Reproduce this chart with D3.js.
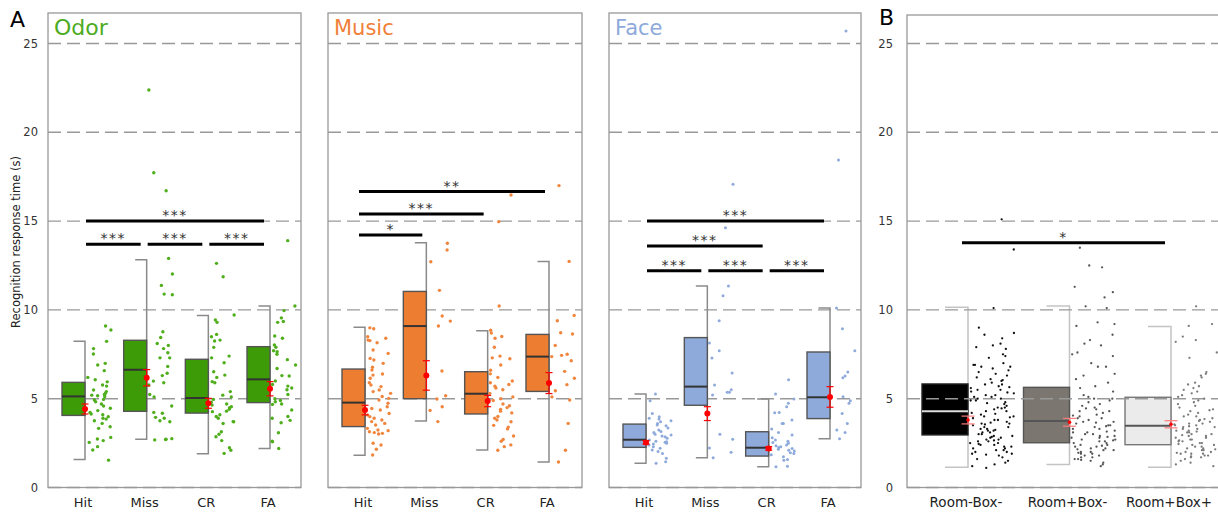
<!DOCTYPE html>
<html>
<head>
<meta charset="utf-8">
<style>
  body { margin: 0; background: #fff; }
  svg { display: block; font-family: 'DejaVu Sans', Verdana, sans-serif; }
</style>
</head>
<body>
<svg id="chart" width="1218" height="512"></svg>
<script src="https://cdn.jsdelivr.net/npm/d3@7"></script>
<script>
const yTicks = [0, 5, 10, 15, 20, 25]
const conditions = ['Hit', 'Miss', 'CR', 'FA']
const rooms = ['Room-Box-', 'Room+Box-', 'Room+Box+']

// box stats: [low whisker, q1, median, q3, high whisker]
const odorBoxes = [[1.57, 4.06, 5.13, 5.92, 8.23], [2.71, 4.29, 6.63, 8.29, 12.83], [1.9, 4.19, 5.04, 7.22, 9.69], [2.2, 4.78, 6.09, 7.93, 10.22]]
const odorMeans = [4.42, 6.18, 4.74, 5.56]
const odorErrors = [0.28, 0.46, 0.28, 0.4]
const odorHit = [9.09, 8.87, 8.23, 7.82, 7.52, 6.99, 6.9, 6.58, 6.2, 6.07, 5.95, 5.77, 5.71, 5.49, 5.4, 5.3, 5.24, 5.2, 5.17, 5.12, 4.96, 4.93, 4.83, 4.7, 4.59, 4.46, 4.33, 4.23, 4.14, 4.1, 3.99, 3.9, 3.85, 3.76, 3.61, 3.42, 3.33, 2.82, 2.73, 2.64, 2.54, 2.3, 2.11, 1.54]
const odorMiss = [22.38, 17.72, 16.71, 12.9, 12.02, 11.38, 10.89, 10.85, 8.77, 8.45, 8.11, 8.0, 7.82, 7.59, 7.3, 7.3, 6.82, 6.43, 6.3, 5.99, 5.9, 5.77, 5.24, 5.1, 4.59, 4.23, 4.18, 3.95, 3.9, 3.76, 3.7, 2.75, 2.72, 2.7, 2.68]
const odorCR = [12.62, 11.87, 9.71, 9.43, 9.3, 8.62, 8.49, 8.3, 8.25, 7.89, 7.4, 7.3, 7.02, 6.52, 6.33, 6.2, 5.96, 5.9, 5.4, 5.2, 5.1, 4.96, 4.8, 4.7, 4.64, 4.55, 4.5, 4.4, 4.3, 4.27, 4.1, 4.0, 3.9, 3.71, 3.7, 3.6, 3.14, 3.0, 2.86, 2.64, 2.24, 2.1, 1.92]
const odorFA = [13.9, 10.22, 9.96, 9.55, 9.35, 9.3, 8.53, 8.4, 8.02, 7.9, 7.7, 7.65, 7.5, 7.2, 6.9, 6.7, 6.3, 6.28, 6.0, 5.8, 5.71, 5.6, 5.5, 5.24, 5.0, 4.9, 4.83, 4.7, 4.68, 4.36, 4.0, 3.9, 3.78, 3.65, 3.08, 2.6, 2.58, 2.2]
const odorSig = [['Hit', 'FA', 15.0, '***'], ['Hit', 'Miss', 13.7, '***'], ['Miss', 'CR', 13.7, '***'], ['CR', 'FA', 13.7, '***']]

const musicBoxes = [[1.81, 3.43, 4.78, 6.67, 9.02], [3.74, 5.0, 9.09, 11.04, 13.78], [2.11, 4.14, 5.28, 6.52, 8.83], [1.44, 5.41, 7.37, 8.62, 12.73]]
const musicMeans = [4.36, 6.31, 4.87, 5.88]
const musicErrors = [0.27, 0.83, 0.32, 0.59]
const musicHit = [8.99, 8.94, 8.49, 8.4, 8.3, 8.27, 8.15, 7.74, 7.55, 7.27, 7.18, 6.99, 6.77, 6.62, 6.39, 6.33, 6.15, 5.9, 5.77, 5.68, 5.49, 5.4, 5.3, 5.12, 5.02, 4.93, 4.74, 4.55, 4.45, 4.36, 4.17, 4.08, 3.99, 3.9, 3.8, 3.71, 3.61, 3.52, 3.33, 3.24, 3.2, 3.14, 3.09, 3.05, 3.01, 2.49, 2.39, 2.15, 1.83]
const musicMiss = [13.75, 13.37, 12.71, 11.1, 9.66, 9.37, 9.09, 6.56, 5.17, 4.98, 4.55, 4.34, 3.71]
const musicCR = [16.47, 14.97, 10.22, 8.85, 8.7, 8.5, 8.4, 7.9, 7.4, 7.3, 7.25, 6.9, 6.6, 6.4, 6.2, 6.0, 5.9, 5.8, 5.7, 5.6, 5.5, 5.3, 5.1, 5.0, 4.9, 4.7, 4.6, 4.5, 4.4, 4.3, 4.2, 4.0, 3.9, 3.8, 3.7, 3.5, 3.4, 3.3, 2.9, 2.7, 2.6, 2.4, 2.3, 2.1]
const musicFA = [17.0, 12.73, 9.69, 9.39, 8.71, 8.64, 8.0, 7.5, 7.44, 7.37, 7.14, 6.54, 6.15, 5.79, 5.45, 5.1, 4.93, 3.61, 2.1, 1.44]
const musicSig = [['Hit', 'FA', 16.66, '**'], ['Hit', 'CR', 15.4, '***'], ['Hit', 'Miss', 14.22, '*']]

const faceBoxes = [[1.36, 2.26, 2.69, 3.57, 5.26], [1.68, 4.63, 5.68, 8.44, 11.35], [1.17, 1.77, 2.24, 3.14, 4.98], [2.75, 3.88, 5.08, 7.63, 10.1]]
const faceMeans = [2.54, 4.16, 2.2, 5.1]
const faceErrors = [0.1, 0.39, 0.1, 0.58]
const faceHit = [5.26, 4.89, 4.17, 3.99, 3.9, 3.85, 3.76, 3.7, 3.61, 3.52, 3.47, 3.35, 3.24, 3.15, 3.09, 3.0, 2.96, 2.9, 2.86, 2.77, 2.68, 2.6, 2.58, 2.55, 2.49, 2.45, 2.39, 2.3, 2.21, 2.11, 2.02, 1.92, 1.64, 1.45, 1.36]
const faceMiss = [17.07, 14.63, 11.35, 10.79, 9.39, 8.13, 7.7, 7.29, 6.45, 5.77, 5.51, 5.36, 5.36, 5.21, 3.0, 2.72, 2.23, 1.98, 1.68]
const faceCR = [6.07, 5.26, 4.98, 4.74, 4.55, 4.23, 4.21, 3.8, 3.61, 3.6, 3.3, 3.09, 2.96, 2.8, 2.68, 2.6, 2.53, 2.49, 2.4, 2.35, 2.3, 2.25, 2.2, 2.15, 2.1, 2.05, 1.95, 1.92, 1.85, 1.73, 1.58, 1.54, 1.2, 1.17]
const faceFA = [25.7, 18.44, 10.1, 8.94, 7.7, 6.5, 6.28, 6.18, 5.11, 4.89, 4.74, 4.17, 3.61, 3.24, 3.1, 2.75]
const faceSig = [['Hit', 'FA', 15.0, '***'], ['Hit', 'CR', 13.6, '***'], ['Hit', 'Miss', 12.21, '***'], ['Miss', 'CR', 12.21, '***'], ['CR', 'FA', 12.21, '***']]

const roomBoxes = [[1.14, 2.96, 4.29, 5.83, 10.15], [1.29, 2.52, 3.74, 5.64, 10.22], [1.14, 2.41, 3.48, 5.08, 9.07]]
const roomMeans = [3.8, 3.67, 3.56]
const roomErrors = [0.22, 0.22, 0.2]
const roomMinusBoxMinus = [15.1, 13.4, 10.1, 9.0, 8.7, 8.6, 8.4, 8.1, 8.0, 7.9, 7.8, 7.5, 7.4, 7.3, 7.0, 6.9, 6.9, 6.8, 6.8, 6.7, 6.6, 6.5, 6.4, 6.3, 6.2, 6.1, 6.05, 6.0, 5.9, 5.8, 5.8, 5.7, 5.65, 5.6, 5.5, 5.5, 5.4, 5.35, 5.3, 5.2, 5.2, 5.1, 5.1, 5.0, 5.0, 4.9, 4.9, 4.8, 4.75, 4.7, 4.6, 4.5, 4.5, 4.45, 4.4, 4.3, 4.3, 4.2, 4.15, 4.1, 4.0, 4.0, 3.95, 3.9, 3.8, 3.8, 3.7, 3.65, 3.6, 3.6, 3.55, 3.5, 3.4, 3.4, 3.3, 3.3, 3.25, 3.2, 3.2, 3.1, 3.1, 3.0, 3.0, 2.9, 2.9, 2.85, 2.8, 2.8, 2.7, 2.7, 2.65, 2.6, 2.6, 2.5, 2.5, 2.45, 2.4, 2.4, 2.3, 2.3, 2.2, 2.2, 2.1, 2.1, 2.0, 2.0, 1.9, 1.9, 1.85, 1.8, 1.7, 1.6, 1.5, 1.4, 1.3, 1.2, 1.1]
const roomPlusBoxMinus = [13.5, 12.5, 12.4, 11.3, 11.0, 10.7, 10.2, 10.1, 9.3, 9.2, 9.1, 8.6, 8.3, 8.1, 8.0, 7.6, 7.5, 7.4, 7.0, 6.8, 6.8, 6.4, 6.3, 6.1, 5.9, 5.7, 5.6, 5.4, 5.2, 5.1, 5.0, 5.0, 4.9, 4.8, 4.7, 4.6, 4.5, 4.45, 4.4, 4.3, 4.3, 4.2, 4.1, 4.05, 4.0, 3.9, 3.9, 3.8, 3.7, 3.7, 3.65, 3.6, 3.5, 3.5, 3.45, 3.4, 3.3, 3.3, 3.2, 3.15, 3.1, 3.1, 3.0, 3.0, 2.9, 2.9, 2.85, 2.8, 2.8, 2.7, 2.7, 2.65, 2.6, 2.6, 2.5, 2.5, 2.4, 2.4, 2.35, 2.3, 2.3, 2.2, 2.2, 2.15, 2.1, 2.1, 2.0, 2.0, 1.95, 1.9, 1.9, 1.8, 1.8, 1.7, 1.7, 1.6, 1.6, 1.55, 1.5, 1.4, 1.3, 1.2]
const roomPlusBoxPlus = [10.2, 9.2, 9.1, 8.5, 8.3, 8.2, 7.6, 7.3, 6.5, 6.4, 6.3, 6.2, 5.9, 5.8, 5.7, 5.6, 5.5, 5.4, 5.3, 5.2, 5.1, 5.0, 4.9, 4.8, 4.7, 4.6, 4.5, 4.4, 4.35, 4.3, 4.2, 4.1, 4.0, 4.0, 3.9, 3.85, 3.8, 3.75, 3.7, 3.6, 3.6, 3.55, 3.5, 3.5, 3.45, 3.4, 3.4, 3.3, 3.3, 3.2, 3.2, 3.15, 3.1, 3.1, 3.0, 3.0, 2.95, 2.9, 2.9, 2.8, 2.8, 2.7, 2.7, 2.65, 2.6, 2.6, 2.5, 2.5, 2.45, 2.4, 2.4, 2.3, 2.3, 2.2, 2.2, 2.15, 2.1, 2.1, 2.0, 2.0, 1.95, 1.9, 1.9, 1.9, 1.8, 1.8, 1.75, 1.7, 1.7, 1.6, 1.5, 1.4, 1.3, 1.2]
const roomSig = [['Room-Box-', 'Room+Box+', 13.78, '*']]

const svg = d3.select('#chart')
const y = d3.scaleLinear().domain([0, 25]).range([487.5, 43.5])

window.addEventListener('DOMContentLoaded', init)

function init () {
  drawPanel({
    title: 'Odor', titleColor: '#4cab1e', left: 48, right: 301, top: 13, inset: [37, 31],
    categories: conditions, boxes: odorBoxes, means: odorMeans, errors: odorErrors,
    points: [odorHit, odorMiss, odorCR, odorFA], sig: odorSig,
    boxFill: ['#3d9b07'], boxStroke: ['#555'], median: ['#333'], pointFill: ['#4fae1c'],
    boxWidth: 23, spread: 24, r: 1.7, whisker: '#8a8a8a', seed: 1, labels: true
  })
  drawPanel({
    title: 'Music', titleColor: '#f08038', left: 328, right: 582, top: 13, inset: [37, 33],
    categories: conditions, boxes: musicBoxes, means: musicMeans, errors: musicErrors,
    points: [musicHit, musicMiss, musicCR, musicFA], sig: musicSig, sigPad: [-6, -4],
    boxFill: ['#ed7d31'], boxStroke: ['#555'], median: ['#333'], pointFill: ['#f0863e'],
    boxWidth: 23, spread: 24, r: 1.7, whisker: '#8a8a8a', seed: 2
  })
  drawPanel({
    title: 'Face', titleColor: '#8eaadb', left: 609, right: 861, top: 13, inset: [37, 31],
    categories: conditions, boxes: faceBoxes, means: faceMeans, errors: faceErrors,
    points: [faceHit, faceMiss, faceCR, faceFA], sig: faceSig,
    boxFill: ['#8eaadb'], boxStroke: ['#555'], median: ['#333'], pointFill: ['#8eaadb'],
    boxWidth: 23, spread: 24, r: 1.5, whisker: '#8a8a8a', seed: 3
  })
  drawPanel({
    left: 907, right: 1240, top: 15, inset: [61, 69],
    categories: rooms, boxes: roomBoxes, means: roomMeans, errors: roomErrors,
    points: [roomMinusBoxMinus, roomPlusBoxMinus, roomPlusBoxPlus], sig: roomSig, sigPad: [-6, -6],
    boxFill: ['#000', '#7b7770', '#ebebeb'], boxStroke: ['#222', '#555', '#777'],
    median: ['#ddd', '#555', '#555'], pointFill: ['#111', '#555', '#7a7a7a'],
    boxWidth: 46, spread: 44, r: 1.15, whisker: '#c4c4c4', seed: 4,
    labels: true, gridOnTop: true, softMean: true, labelSize: 13.5
  })

  svg.append('text').attr('x', 10).attr('y', 27).attr('font-size', 22).text('A')
  svg.append('text').attr('x', 879).attr('y', 25).attr('font-size', 22).text('B')
  svg.append('text')
    .attr('transform', 'translate(20, 242) rotate(-90)')
    .attr('text-anchor', 'middle')
    .attr('font-size', 11.5)
    .attr('fill', '#222')
    .text('Recognition response time (s)')
}

function jitter (i, seed) {
  const s = Math.sin((i + 1) * 12.9898 + seed * 78.233) * 43758.5453
  return s - Math.floor(s)
}

function drawPanel (cfg) {
  const g = svg.append('g')
  const x = d3.scalePoint()
    .domain(cfg.categories)
    .range([cfg.left + cfg.inset[0], cfg.right - cfg.inset[1]])
  const pick = (arr, i) => arr[i % arr.length]

  g.append('rect')
    .attr('x', cfg.left).attr('y', cfg.top)
    .attr('width', cfg.right - cfg.left).attr('height', y(0) - cfg.top)
    .attr('fill', 'none').attr('stroke', '#999').attr('stroke-width', 1.3)

  const drawGrid = () => {
    g.append('g').selectAll('line').data(yTicks).join('line')
      .attr('x1', cfg.left).attr('x2', cfg.right)
      .attr('y1', d => y(d)).attr('y2', d => y(d))
      .attr('stroke', '#999').attr('stroke-width', 1.4)
      .attr('stroke-dasharray', '13,6')
  }
  if (!cfg.gridOnTop) drawGrid()

  if (cfg.labels) {
    const axis = d3.axisLeft(y).tickValues(yTicks).tickSize(0).tickPadding(cfg.gridOnTop ? 14 : 10)
    const ax = g.append('g').attr('transform', `translate(${cfg.left}, 0)`).call(axis)
    ax.select('.domain').remove()
    ax.selectAll('text').attr('font-size', 11.5).attr('fill', '#333').attr('font-family', 'DejaVu Sans')
  }

  const cats = cfg.categories.map((c, i) => ({
    name: c, box: cfg.boxes[i], mean: cfg.means[i], err: cfg.errors[i], pts: cfg.points[i], i
  }))
  const bw = cfg.boxWidth

  // whiskers: a bracket on the right edge of the box
  cats.forEach(d => {
    const cx = x(d.name)
    const [lo, , , , hi] = d.box
    g.append('path')
      .attr('d', `M${cx - bw / 2},${y(hi)}H${cx}V${y(lo)}H${cx - bw / 2}`)
      .attr('fill', 'none').attr('stroke', cfg.whisker).attr('stroke-width', 1.5)
  })

  g.append('g').selectAll('rect').data(cats).join('rect')
    .attr('x', d => x(d.name) - bw)
    .attr('y', d => y(d.box[3]))
    .attr('width', bw)
    .attr('height', d => y(d.box[1]) - y(d.box[3]))
    .attr('fill', d => pick(cfg.boxFill, d.i))
    .attr('stroke', d => pick(cfg.boxStroke, d.i))
    .attr('stroke-width', 1.4)

  if (cfg.gridOnTop) drawGrid()

  g.append('g').selectAll('line').data(cats).join('line')
    .attr('x1', d => x(d.name) - bw).attr('x2', d => x(d.name))
    .attr('y1', d => y(d.box[2])).attr('y2', d => y(d.box[2]))
    .attr('stroke', d => pick(cfg.median, d.i)).attr('stroke-width', 2)

  cats.forEach(d => {
    g.append('g').selectAll('circle').data(d.pts).join('circle')
      .attr('cx', (v, k) => x(d.name) + 2 + jitter(k, cfg.seed * 10 + d.i) * cfg.spread)
      .attr('cy', v => y(v))
      .attr('r', cfg.r)
      .attr('fill', pick(cfg.pointFill, d.i))
  })

  // mean and error bar
  const cap = cfg.softMean ? 6.5 : 3.5
  const errColor = cfg.softMean ? '#ff7b7b' : '#f00'
  cats.forEach(d => {
    const cx = x(d.name)
    const eg = g.append('g').attr('stroke', errColor).attr('stroke-width', 1.2)
    eg.append('line').attr('x1', cx).attr('x2', cx).attr('y1', y(d.mean - d.err)).attr('y2', y(d.mean + d.err))
    eg.append('line').attr('x1', cx - cap).attr('x2', cx + cap).attr('y1', y(d.mean - d.err)).attr('y2', y(d.mean - d.err))
    eg.append('line').attr('x1', cx - cap).attr('x2', cx + cap).attr('y1', y(d.mean + d.err)).attr('y2', y(d.mean + d.err))
    g.append('circle').attr('cx', cx).attr('cy', y(d.mean))
      .attr('r', cfg.softMean ? 1.8 : 3).attr('fill', '#f00')
  })

  // significance bars
  const pad = cfg.sigPad || [1, -6]
  cfg.sig.forEach(([a, b, v, label]) => {
    const x1 = x(a) + pad[0]
    const x2 = x(b) + pad[1]
    g.append('line')
      .attr('x1', x1).attr('x2', x2).attr('y1', y(v)).attr('y2', y(v))
      .attr('stroke', '#000').attr('stroke-width', 3)
    g.append('text')
      .attr('x', (x1 + x2) / 2).attr('y', y(v) - 1)
      .attr('text-anchor', 'middle')
      .attr('font-size', 14).attr('letter-spacing', 1.5)
      .attr('fill', '#333')
      .text(label)
  })

  // category labels
  g.append('g').selectAll('text').data(cats).join('text')
    .attr('x', d => x(d.name) - 2)
    .attr('y', 507)
    .attr('text-anchor', 'middle')
    .attr('font-size', cfg.labelSize || 13)
    .attr('fill', '#222')
    .text(d => d.name)

  if (cfg.title) {
    g.append('text')
      .attr('x', cfg.left + 6).attr('y', cfg.top + 22)
      .attr('font-size', cfg.title === 'Odor' ? 22 : 21)
      .attr('fill', cfg.titleColor)
      .text(cfg.title)
  }
}
</script>
</body>
</html>
